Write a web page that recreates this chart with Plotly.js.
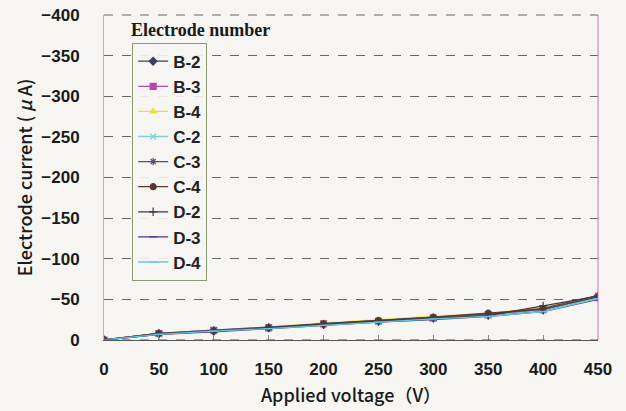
<!DOCTYPE html>
<html><head><meta charset="utf-8">
<script src="https://cdn.plot.ly/plotly-3.0.1.min.js"></script>
<style>html,body{margin:0;padding:0;background:#f6f5f2;}#c{width:626px;height:411px;}</style>
</head><body><div id="c"></div>
<script>
const voltage = [0,50,100,150,200,250,300,350,400,450];
const seriesNames = ["B-2","B-3","B-4","C-2","C-3","C-4","D-2","D-3","D-4"];
const B2 = [0,-8,-11,-15,-19,-23,-27,-31,-37,-53];
const B3 = [0,-8,-12,-15,-20,-23,-27,-31,-38,-52];
const B4 = [0,-8,-11,-16,-21,-25,-29,-33,-40,-54];
const C2 = [0,-7,-11,-14,-19,-22,-26,-30,-36,-52];
const C3 = [0,-8,-12,-16,-20,-24,-28,-32,-39,-55];
const C4 = [0,-8,-11,-15,-20,-24,-28,-33,-38,-53];
const D2 = [0,-7,-11,-15,-19,-23,-27,-30,-42,-54];
const D3 = [0,-7,-10,-14,-18,-22,-25,-29,-35,-50];
const D4 = [0,-7,-11,-14,-18,-22,-26,-29,-35,-51];
const yTicks = [0,-50,-100,-150,-200,-250,-300,-350,-400];
const xTicks = [0,50,100,150,200,250,300,350,400,450];

const values = [B2,B3,B4,C2,C3,C4,D2,D3,D4];
const colors = ["#3a3f66","#b04aa8","#e8e040","#7fd0d8","#5a4a70","#5a3a30","#3a3a48","#4a3c80","#60c8e0"];
const symbols = ["diamond","square","triangle-up","x-thin-open","asterisk-open","circle","cross-thin-open","line-ew-open","line-ew-open"];

const traces = values.map((v,i)=>({
  x: voltage, y: v, name: seriesNames[i], type:'scatter', mode:'lines+markers',
  line:{color:colors[i], width:1.3},
  marker:{symbol:symbols[i], size:6, color:colors[i], line:{color:colors[i], width:1.2}},
  legendgroup:'g'+i
}));

const tickFont = {family:'Liberation Sans', size:17, color:'#1a1a1a', weight:'bold'};
const titleFont = {family:'Noto Sans CJK JP', size:18, color:'#1a1a1a', weight:500};

const layout = {
  width:626, height:411,
  paper_bgcolor:'#f6f5f2', plot_bgcolor:'rgba(0,0,0,0)',
  margin:{l:104, r:28, t:15, b:71},
  showlegend:true,
  legend:{x:0.057, y:0.915, xanchor:'left', yanchor:'top', bgcolor:'rgba(246,245,242,0.9)',
    bordercolor:'#8a9a70', borderwidth:1, tracegroupgap:0, itemwidth:30,
    font:{family:'Liberation Sans', size:17, color:'#222', weight:'bold'}},
  xaxis:{range:[0,450], tickvals:xTicks, ticks:'inside', ticklen:5, tickcolor:'#888',
    showgrid:false, zeroline:false, showline:true, linecolor:'#555', ticklabelstandoff:14,
    tickfont:tickFont,
    title:{text:'Applied voltage（V）', font:titleFont, standoff:10}},
  yaxis:{range:[0,-400], tickvals:yTicks, ticktext:yTicks.map(t=>t===0?'0':'−'+Math.abs(t)),
    showgrid:true, gridcolor:'#666', griddash:'dash', gridwidth:1, ticklabelstandoff:20,
    zeroline:false, showline:true, linecolor:'#a8c878', ticks:'', ticklen:0,
    tickfont:tickFont,
    title:{text:'Electrode current ( <i>μ</i> A)', font:titleFont, standoff:4}},
  shapes:[
    {type:'line', xref:'paper', yref:'paper', x0:1, x1:1, y0:0, y1:1, line:{color:'#d070b8', width:1}},
    {type:'line', xref:'paper', yref:'paper', x0:0, x1:1, y0:0, y1:0, line:{color:'#555', width:1, dash:'dash'}},
    {type:'line', xref:'paper', yref:'paper', x0:0, x1:1, y0:1, y1:1, line:{color:'#666', width:1, dash:'dash'}}
  ],
  annotations:[
    {text:'<b>Electrode number</b>', xref:'paper', yref:'paper', x:0.05, y:0.955, xanchor:'left', yanchor:'middle',
     showarrow:false, font:{family:'Liberation Serif, DejaVu Serif', size:18, color:'#1a1a1a'}}
  ]
};
Plotly.newPlot('c', traces, layout, {displayModeBar:false, staticPlot:true});
</script></body></html>
